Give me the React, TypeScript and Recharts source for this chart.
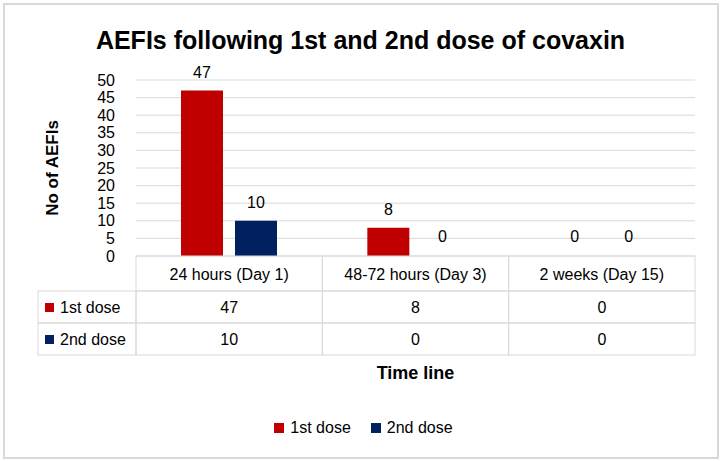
import { BarChart, Bar, XAxis, YAxis, CartesianGrid, Legend, LabelList, Cell } from 'recharts';

const categories = ['24 hours (Day 1)', '48-72 hours (Day 3)', '2 weeks (Day 15)'];
const firstDose = [47, 8, 0];
const secondDose = [10, 0, 0];
const seriesNames = ['1st dose', '2nd dose'];
const yTicks = [0, 5, 10, 15, 20, 25, 30, 35, 40, 45, 50];

const COLORS = ['#c00000', '#002060'];
const LINE = '#d9d9d9';
const FONT = '"Liberation Sans", Arial, sans-serif';

const data = categories.map((name, i) => ({ name, first: firstDose[i], second: secondDose[i] }));
const rows = [firstDose, secondDose];

// x axis tick that draws one column of the data table below the plot
function TableTick(props: any) {
  const { x, y, payload } = props;
  const half = payload.offset || 93;
  const left = x - half;
  const w = half * 2;
  const i = payload.index;
  return (
    <g>
      <rect x={left} y={y} width={w} height={35} fill="none" stroke={LINE} />
      <rect x={left} y={y + 35} width={w} height={32} fill="none" stroke={LINE} />
      <rect x={left} y={y + 67} width={w} height={32} fill="none" stroke={LINE} />
      <text x={x} y={y + 18} textAnchor="middle" dominantBaseline="central" fontSize={16} fill="#000">
        {payload.value}
      </text>
      {rows.map((r, k) => (
        <text key={k} x={x} y={y + 51 + k * 32} textAnchor="middle" dominantBaseline="central" fontSize={16} fill="#000">
          {r[i]}
        </text>
      ))}
      {i === 0 &&
        seriesNames.map((s, k) => (
          <g key={s}>
            <rect x={left - 98} y={y + 35 + k * 32} width={98} height={32} fill="none" stroke={LINE} />
            <rect x={left - 91} y={y + 47 + k * 32} width={9} height={9} fill={COLORS[k]} />
            <text x={left - 76} y={y + 51 + k * 32} dominantBaseline="central" fontSize={16} fill="#000">
              {s}
            </text>
          </g>
        ))}
    </g>
  );
}

function LegendContent() {
  return (
    <div style={{ display: 'flex', justifyContent: 'center', alignItems: 'center', fontSize: 16, color: '#000', height: 24 }}>
      {seriesNames.map((s, k) => (
        <div key={s} style={{ display: 'flex', alignItems: 'center', marginLeft: k ? 20 : 0 }}>
          <span style={{ width: 10, height: 10, background: COLORS[k], marginRight: 6, display: 'inline-block' }} />
          <span>{s}</span>
        </div>
      ))}
    </div>
  );
}

export default function App() {
  return (
    <div style={{ position: 'absolute', left: 0, top: 0, width: 721, height: 461, background: '#fff', fontFamily: FONT }}>
      <div style={{ position: 'absolute', left: 3, top: 3, width: 712, height: 452, border: `2px solid ${LINE}` }} />
      <div
        style={{
          position: 'absolute',
          left: 0,
          top: 25,
          width: 721,
          lineHeight: '30px',
          textAlign: 'center',
          fontSize: 25,
          fontWeight: 'bold',
          color: '#000',
        }}
      >
        AEFIs following 1st and 2nd dose of covaxin
      </div>
      <BarChart width={721} height={461} data={data} margin={{ top: 80, right: 26, left: 0, bottom: 21 }} barGap={12}>
        <CartesianGrid vertical={false} stroke={LINE} />
        <XAxis
          dataKey="name"
          height={160}
          axisLine={false}
          tickLine={false}
          tickSize={0}
          tickMargin={0}
          interval={0}
          tick={<TableTick />}
          label={{
            content: (p: any) => (
              <text
                x={p.viewBox.x + p.viewBox.width / 2}
                y={p.viewBox.y + 117}
                textAnchor="middle"
                dominantBaseline="central"
                fontSize={18}
                fontWeight="bold"
                fill="#000"
              >
                Time line
              </text>
            ),
          }}
        />
        <YAxis
          width={136}
          domain={[0, 50]}
          ticks={yTicks}
          interval={0}
          axisLine={false}
          tickLine={false}
          tickSize={0}
          tickMargin={21}
          tick={{ fill: '#000', fontSize: 16 }}
          label={{
            content: (p: any) => (
              <text
                x={52}
                y={p.viewBox.y + p.viewBox.height / 2}
                transform={`rotate(-90, 52, ${p.viewBox.y + p.viewBox.height / 2})`}
                textAnchor="middle"
                dominantBaseline="central"
                fontSize={17}
                fontWeight="bold"
                fill="#000"
              >
                No of AEFIs
              </text>
            ),
          }}
        />
        <Legend verticalAlign="bottom" content={<LegendContent />} wrapperStyle={{ left: 16, width: 695 }} />
        <Bar dataKey="first" name={seriesNames[0]} fill={COLORS[0]} barSize={42} minPointSize={1} isAnimationActive={false}>
          {data.map((d, i) => (
            <Cell key={i} fill={d.first ? COLORS[0] : 'none'} />
          ))}
          <LabelList dataKey="first" position="top" offset={13} fill="#000" fontSize={16} />
        </Bar>
        <Bar dataKey="second" name={seriesNames[1]} fill={COLORS[1]} barSize={42} minPointSize={1} isAnimationActive={false}>
          {data.map((d, i) => (
            <Cell key={i} fill={d.second ? COLORS[1] : 'none'} />
          ))}
          <LabelList dataKey="second" position="top" offset={13} fill="#000" fontSize={16} />
        </Bar>
      </BarChart>
    </div>
  );
}
